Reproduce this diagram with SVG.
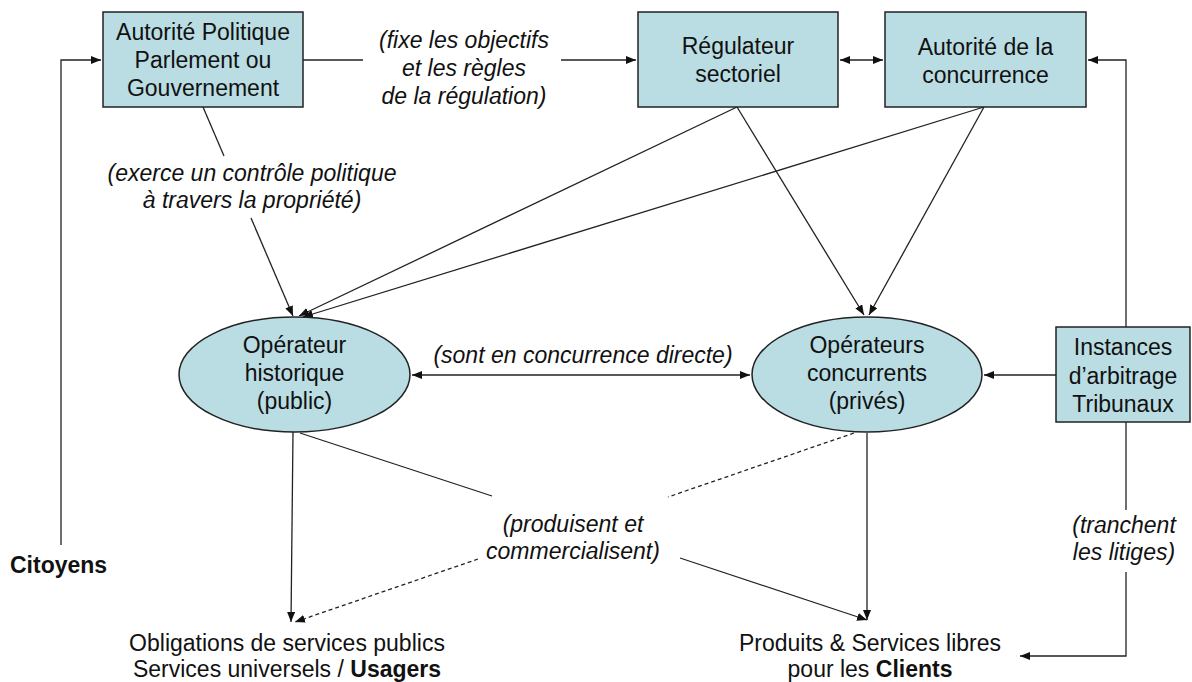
<svg xmlns="http://www.w3.org/2000/svg" width="1192" height="682" viewBox="0 0 1192 682">
<defs>
<style>
.box{fill:#b9dde3;stroke:#222;stroke-width:1.5}
.t{font-family:"Liberation Sans",Arial,sans-serif;font-size:23px;fill:#111;text-anchor:middle}
.i{font-style:italic}
.b{font-weight:bold}
.c{fill:none;stroke:#222;stroke-width:1.3}
.d{stroke-dasharray:4,3}
</style>
<marker id="ah" viewBox="0 0 10 8" refX="10" refY="4" markerWidth="10" markerHeight="8" markerUnits="userSpaceOnUse" orient="auto-start-reverse">
<path d="M0,0 L10,4 L0,8 z" fill="#111"/>
</marker>
</defs>
<rect width="1192" height="682" fill="#fff"/>

<g id="connectors">
<!-- Citoyens to Autorite politique -->
<polyline class="c" points="61,545 61,60 101,60" marker-end="url(#ah)"/>
<!-- fixe les objectifs -->
<line class="c" x1="303" y1="60" x2="363" y2="60"/>
<line class="c" x1="561" y1="60" x2="636" y2="60" marker-end="url(#ah)"/>
<!-- regulateur <-> autorite concurrence -->
<line class="c" x1="840" y1="60" x2="883" y2="60" marker-start="url(#ah)" marker-end="url(#ah)"/>
<!-- tribunaux to autorite concurrence -->
<polyline class="c" points="1126,327 1126,60 1088,60" marker-end="url(#ah)"/>
<!-- controle politique -->
<line class="c" x1="203" y1="107" x2="224" y2="156"/>
<line class="c" x1="251" y1="218" x2="293" y2="316" marker-end="url(#ah)"/>
<!-- regulateur to operators -->
<line class="c" x1="737" y1="107" x2="299" y2="316" marker-end="url(#ah)"/>
<line class="c" x1="737" y1="107" x2="864" y2="315" marker-end="url(#ah)"/>
<!-- autorite concurrence to operators -->
<line class="c" x1="984" y1="107" x2="303" y2="317" marker-end="url(#ah)"/>
<line class="c" x1="984" y1="107" x2="869" y2="315" marker-end="url(#ah)"/>
<!-- concurrence directe -->
<line class="c" x1="412" y1="375" x2="750" y2="375" marker-start="url(#ah)" marker-end="url(#ah)"/>
<!-- tribunaux to operateurs concurrents -->
<line class="c" x1="1056" y1="375" x2="984" y2="375" marker-end="url(#ah)"/>
<!-- historique down -->
<line class="c" x1="293" y1="432" x2="291" y2="622" marker-end="url(#ah)"/>
<!-- historique to produits -->
<line class="c" x1="300" y1="433" x2="492" y2="496"/>
<line class="c" x1="680" y1="558" x2="867" y2="620" marker-end="url(#ah)"/>
<!-- concurrents dashed to obligations -->
<line class="c d" x1="854" y1="433" x2="668" y2="497"/>
<line class="c d" x1="478" y1="559" x2="295" y2="622" marker-end="url(#ah)"/>
<!-- concurrents down -->
<line class="c" x1="867" y1="433" x2="867" y2="620" marker-end="url(#ah)"/>
<!-- tranchent les litiges -->
<line class="c" x1="1126" y1="422" x2="1126" y2="510"/>
<polyline class="c" points="1126,572 1126,656 1020,656" marker-end="url(#ah)"/>
</g>

<g id="autorite-politique">
<rect class="box" x="103" y="12" width="200" height="95"/>
<text class="t" x="203" y="40">Autorité Politique</text>
<text class="t" x="203" y="68">Parlement ou</text>
<text class="t" x="203" y="96">Gouvernement</text>
</g>
<g id="regulateur">
<rect class="box" x="638" y="12" width="200" height="95"/>
<text class="t" x="738" y="54">Régulateur</text>
<text class="t" x="738" y="82">sectoriel</text>
</g>
<g id="autorite-concurrence">
<rect class="box" x="885" y="12" width="201" height="95"/>
<text class="t" x="985.5" y="55">Autorité de la</text>
<text class="t" x="985.5" y="83">concurrence</text>
</g>
<g id="operateur-historique">
<ellipse class="box" cx="294.5" cy="374.5" rx="115.5" ry="57.5"/>
<text class="t" x="294.5" y="353">Opérateur</text>
<text class="t" x="294.5" y="381">historique</text>
<text class="t" x="294.5" y="409">(public)</text>
</g>
<g id="operateurs-concurrents">
<ellipse class="box" cx="867" cy="374.5" rx="115" ry="57.5"/>
<text class="t" x="867" y="353">Opérateurs</text>
<text class="t" x="867" y="381">concurrents</text>
<text class="t" x="867" y="409">(privés)</text>
</g>
<g id="instances">
<rect class="box" x="1056" y="327" width="134" height="95"/>
<text class="t" x="1123" y="355">Instances</text>
<text class="t" x="1123" y="383.5">d’arbitrage</text>
<text class="t" x="1123" y="412">Tribunaux</text>
</g>
<g id="citoyens">
<text class="t b" x="10" y="573" style="text-anchor:start">Citoyens</text>
</g>
<g id="obligations">
<text class="t" x="287" y="651">Obligations de services publics</text>
<text class="t" x="287" y="677">Services universels / <tspan class="b">Usagers</tspan></text>
</g>
<g id="produits">
<text class="t" x="870" y="651">Produits &amp; Services libres</text>
<text class="t" x="870" y="677">pour les <tspan class="b">Clients</tspan></text>
</g>
<g id="labels">
<text class="t i" x="464" y="48">(fixe les objectifs</text>
<text class="t i" x="464" y="76">et les règles</text>
<text class="t i" x="464" y="104">de la régulation)</text>
<text class="t i" x="252" y="181">(exerce un contrôle politique</text>
<text class="t i" x="252" y="208">à travers la propriété)</text>
<text class="t i" x="583" y="363">(sont en concurrence directe)</text>
<text class="t i" x="573" y="532">(produisent et</text>
<text class="t i" x="573" y="559">commercialisent)</text>
<text class="t i" x="1124" y="533">(tranchent</text>
<text class="t i" x="1124" y="560">les litiges)</text>
</g>
</svg>
